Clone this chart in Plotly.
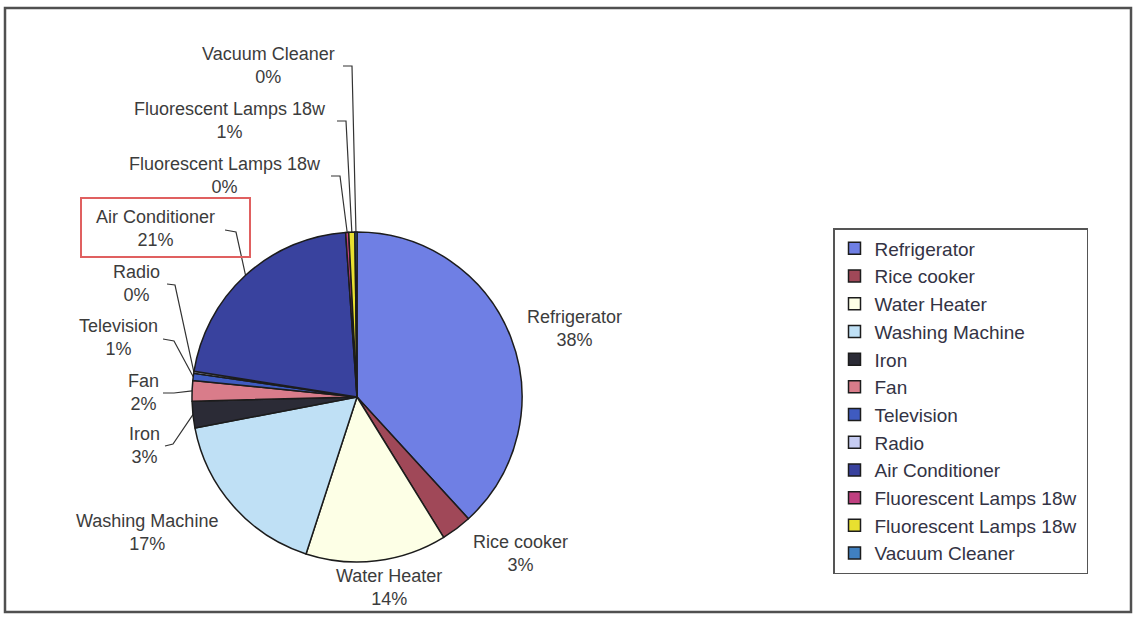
import math
import plotly.graph_objects as go

# ---------------- data ----------------
categories = ["Refrigerator", "Rice cooker", "Water Heater", "Washing Machine", "Iron", "Fan",
              "Television", "Radio", "Air Conditioner", "Fluorescent Lamps 18w",
              "Fluorescent Lamps 18w ", "Vacuum Cleaner"]
values = [38.2, 3.0, 13.8, 17.0, 2.6, 2.0, 0.7, 0.2, 21.4, 0.3, 0.6, 0.2]
colors = ["#6F7FE4", "#A04858", "#FDFFE6", "#BFE0F5", "#2B2B36", "#D97C8A",
          "#3F5BC0", "#C6CCF2", "#39429E", "#C04080", "#E8E030", "#4080C0"]

# ---------------- layout (pixels) ----------------
W, H = 1136, 619
CX, CY, R = 357, 397, 165
FONT = "Arial, Liberation Sans, sans-serif"
TXT = "#3c3c3c"

# label block centre for every slice
label_pos = [(574, 328), (520, 553), (389, 587), (147, 532), (144, 445), (143, 392),
             (118, 337), (136, 283), (155, 228), (225, 175), (230, 120), (268, 65)]
# leader line start / elbow (None = no leader)
leader = [None, None, None, None,
          ((165, 446), (173, 444)), ((163, 393), (174, 393)),
          ((163, 339), (174, 341)), ((167, 284), (175, 285)),
          ((225, 230), (236, 232)), ((331, 176), (340, 176)),
          ((337, 121), (346, 121)), ((343, 66), (352, 66))]

total = sum(values)
pcts = [round(v / total * 100) for v in values]

fig = go.Figure()

fig.add_trace(go.Pie(
    labels=categories, values=values, sort=False, direction="clockwise", rotation=0,
    marker=dict(colors=colors, line=dict(color="#1c1c1c", width=1.5)),
    textinfo="none", hoverinfo="label+percent",
    domain=dict(x=[(CX - R) / W, (CX + R) / W], y=[(H - CY - R) / H, (H - CY + R) / H]),
    showlegend=True,
))

# leader lines computed from slice mid-angles
cum = 0.0
for i, v in enumerate(values):
    mid = (cum + v / 2) / total * 2 * math.pi
    cum += v
    if leader[i] is None:
        continue
    ex = CX + R * math.sin(mid)
    ey = CY - R * math.cos(mid)
    (sx, sy), (bx, by) = leader[i]
    fig.add_trace(go.Scatter(x=[sx, bx, ex], y=[sy, by, ey], mode="lines",
                             line=dict(color="#333333", width=1.2),
                             hoverinfo="skip", showlegend=False))

annotations = []
for i, name in enumerate(categories):
    x, y = label_pos[i]
    annotations.append(dict(x=x, y=y, xref="x", yref="y", showarrow=False,
                            text=f"{name.strip()}<br>{pcts[i]}%",
                            font=dict(family=FONT, size=18, color=TXT),
                            xanchor="center", yanchor="middle", align="center"))

shapes = [
    dict(type="rect", xref="x", yref="y", x0=5, y0=8, x1=1131, y1=612,
         line=dict(color="#505050", width=2.5), layer="below"),
    dict(type="rect", xref="x", yref="y", x0=81, y0=198, x1=250, y1=257,
         line=dict(color="#E06060", width=2)),
]

fig.update_layout(
    width=W, height=H, margin=dict(l=0, r=0, t=0, b=0),
    paper_bgcolor="white", plot_bgcolor="white",
    xaxis=dict(range=[0, W], visible=False, fixedrange=True, domain=[0, 1]),
    yaxis=dict(range=[H, 0], visible=False, fixedrange=True, domain=[0, 1]),
    annotations=annotations, shapes=shapes,
    legend=dict(x=833 / W, y=1 - 228 / H, xanchor="left", yanchor="top",
                bordercolor="#555555", borderwidth=1.5, bgcolor="white",
                font=dict(family=FONT, size=19, color="#333344"), traceorder="normal"),
    showlegend=True,
)

fig.write_html("out.html")
